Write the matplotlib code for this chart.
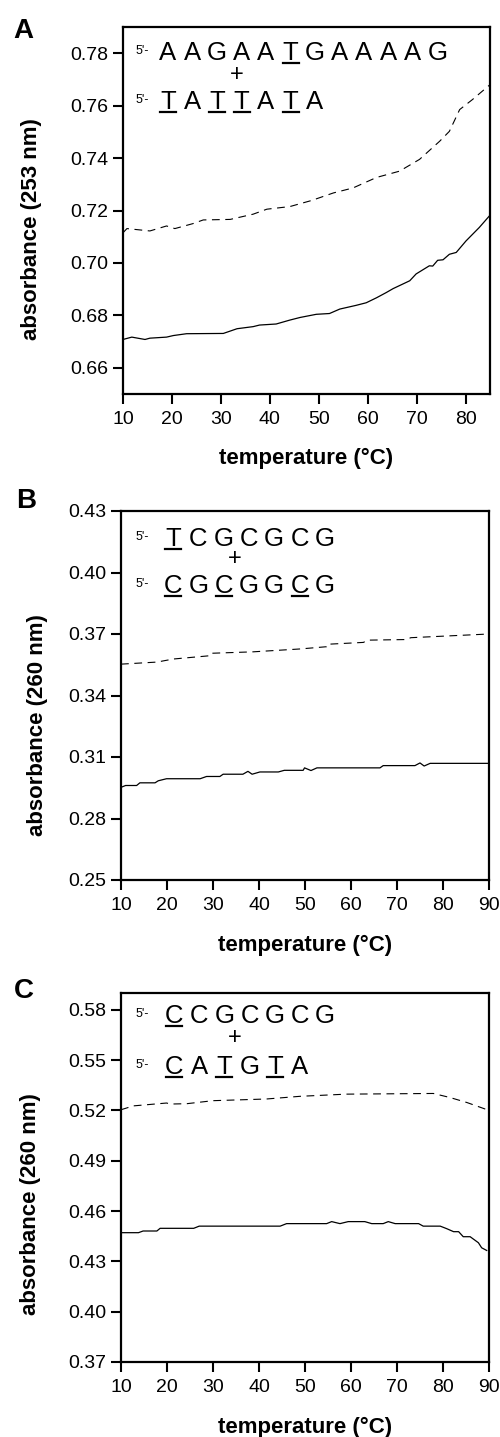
import numpy as np
import matplotlib
matplotlib.use("Agg")
import matplotlib.pyplot as plt
from matplotlib.lines import Line2D

plt.rcParams['font.family'] = ['Liberation Sans', 'DejaVu Sans']

# ---------------- data ----------------
# Panel A (absorbance at 253 nm)
tA_dash = [10, 10.8, 15.5, 18.9, 20.6, 24.3, 26.4, 31.9, 36.6, 39.4, 44.1, 48.5, 53.0,
           57.0, 61.8, 66.5, 70.6, 74.7, 76.7, 78.8, 81.4, 85]
vA_dash = [0.7115, 0.7131, 0.7122, 0.7141, 0.7131, 0.7150, 0.7164, 0.7166, 0.7186, 0.7205,
           0.7215, 0.7238, 0.7267, 0.7286, 0.7326, 0.7350, 0.7395, 0.7464, 0.7502, 0.7585,
           0.7623, 0.7680]
tA_solid = [10, 11.8, 14.5, 15.5, 18.9, 20.3, 23.0, 30.5, 33.3, 36.6, 37.9, 41.3, 44.1, 46.2,
            49.5, 52.2, 54.3, 57.6, 59.7, 61.8, 63.8, 65.2, 68.6, 69.9, 72.6, 73.3, 74.3,
            75.4, 76.7, 78.1, 80.1, 82.8, 85]
vA_solid = [0.6708, 0.6717, 0.6708, 0.6713, 0.6717, 0.6723, 0.6730, 0.6731, 0.6749, 0.6757,
            0.6763, 0.6767, 0.6782, 0.6792, 0.6804, 0.6807, 0.6824, 0.6838, 0.6848, 0.6867,
            0.6887, 0.6902, 0.6932, 0.6958, 0.6989, 0.6988, 0.7010, 0.7012, 0.7033, 0.7040,
            0.7084, 0.7135, 0.7182]

# Panel B (absorbance at 260 nm)
tB_dash = [10, 17.8, 21.4, 29.3, 29.6, 38.7, 48.9, 54.7, 54.9, 62.7, 63.6, 72.1, 73.0, 90]
vB_dash = [0.3553, 0.3563, 0.3578, 0.3594, 0.3606, 0.3613, 0.3627, 0.3638, 0.3650, 0.3659,
           0.3670, 0.3673, 0.3682, 0.3700]
tB_solid = [10, 11, 13.4, 14.1, 17.4, 18.1, 19.9, 27.2, 28.6, 31.5, 32.2, 36.5, 37.6, 38.5,
            40.2, 44.2, 45.5, 49.6, 49.9, 51.3, 52.6, 66.3, 67.0, 73.9, 75.0, 75.9, 77.2, 90]
vB_solid = [0.2952, 0.2961, 0.2961, 0.2974, 0.2974, 0.2984, 0.2994, 0.2994, 0.3005, 0.3005,
            0.3016, 0.3016, 0.3030, 0.3016, 0.3027, 0.3027, 0.3035, 0.3035, 0.3047, 0.3034,
            0.3047, 0.3047, 0.3058, 0.3058, 0.3071, 0.3056, 0.3069, 0.3069]

# Panel C (absorbance at 260 nm)
tC_dash = [10, 12.7, 19.9, 20.8, 24.3, 30, 41.6, 48.9, 59, 77.9, 81.5, 85.2, 89.5]
vC_dash = [0.5204, 0.5227, 0.5244, 0.5238, 0.5240, 0.5258, 0.5268, 0.5284, 0.5297, 0.5301,
           0.5277, 0.5247, 0.5205]
tC_solid = [10, 13.8, 14.8, 17.8, 18.5, 25.8, 27.0, 44.6, 46.0, 54.7, 55.8, 57.6, 59.4, 63.0,
            64.5, 67.0, 68.1, 69.6, 74.7, 75.7, 79.4, 80.8, 82.3, 83.4, 84.4, 85.9, 87.7,
            88.4, 89.5]
vC_solid = [0.4471, 0.4471, 0.4481, 0.4481, 0.4497, 0.4497, 0.4510, 0.4510, 0.4525, 0.4525,
            0.4537, 0.4525, 0.4537, 0.4537, 0.4525, 0.4525, 0.4537, 0.4525, 0.4525, 0.4510,
            0.4510, 0.4495, 0.4477, 0.4477, 0.4447, 0.4447, 0.4411, 0.4381, 0.4365]

# tick labels
xticksA = [10, 20, 30, 40, 50, 60, 70, 80]
xticksBC = [10, 20, 30, 40, 50, 60, 70, 80, 90]
yticksA = [0.66, 0.68, 0.70, 0.72, 0.74, 0.76, 0.78]
yticksB = [0.25, 0.28, 0.31, 0.34, 0.37, 0.40, 0.43]
yticksC = [0.37, 0.40, 0.43, 0.46, 0.49, 0.52, 0.55, 0.58]

ylabelA = "absorbance (253 nm)"
ylabelBC = "absorbance (260 nm)"
xlabel = "temperature (°C)"

# sequences (strand 1, strand 2) and underlined positions
seqA = ("AAGAATGAAAAG", "TATTATA")
ulA = ([5], [0, 2, 3, 5])
seqB = ("TCGCGCG", "CGCGGCG")
ulB = ([0], [0, 2, 5])
seqC = ("CCGCGCG", "CATGTA")
ulC = ([0], [0, 2, 4])

# ---------------- figure ----------------
W, H = 500, 1437
fig = plt.figure(figsize=(W / 100, H / 100), dpi=100)


def P(x, y):
    return x / W, 1 - y / H


def make_axes(box, xlim, ylim, xt, yt, t_d, v_d, t_s, v_s, ylab, ylx, yly):
    l, t, r, b = box
    ax = fig.add_axes([l / W, 1 - b / H, (r - l) / W, (b - t) / H])
    ax.plot(t_d, v_d, color='black', lw=0.8, linestyle=(0, (7, 5)))
    ax.plot(t_s, v_s, color='black', lw=0.9)
    ax.set_xlim(*xlim)
    ax.set_ylim(*ylim)
    ax.set_xticks(xt)
    ax.set_yticks(yt)
    ax.set_yticklabels([f"{v:.2f}" for v in yt])
    ax.tick_params(direction='out', length=7, width=1.5, labelsize=14, pad=3.5,
                   top=False, right=False)
    ax.tick_params(axis='x', pad=5)
    for s in ax.spines.values():
        s.set_linewidth(1.6)
    ax.set_xlabel(xlabel, fontsize=16, fontweight='bold')
    ax.xaxis.set_label_coords(0.5, -0.148)
    ax.set_ylabel(ylab, fontsize=16, fontweight='bold')
    ax.yaxis.set_label_coords(ylx, yly)
    return ax


make_axes((123, 27, 490, 394), (10, 85), (0.65, 0.79), xticksA, yticksA,
          tA_dash, vA_dash, tA_solid, vA_solid, ylabelA, -0.221, 0.45)
make_axes((121, 511, 489, 880), (10, 90), (0.25, 0.43), xticksBC, yticksB,
          tB_dash, vB_dash, tB_solid, vB_solid, ylabelBC, -0.198, 0.42)
make_axes((121, 993, 489, 1362), (10, 90), (0.37, 0.59), xticksBC, yticksC,
          tC_dash, vC_dash, tC_solid, vC_solid, ylabelBC, -0.217, 0.427)

# panel letters
for lab, (x, y) in zip("ABC", [(13, 38), (16, 508), (14, 998)]):
    fig.text(*P(x, y), lab, fontsize=20, fontweight='bold', ha='left', va='baseline')


def draw_seq(seqs, uls, x0, step, base1, base2, plus_xy):
    for seq, ul, base in zip(seqs, uls, (base1, base2)):
        fig.text(*P(136, base - 6), "5'-", fontsize=9, ha='left', va='baseline')
        for i, ch in enumerate(seq):
            cx = x0 + i * step
            fig.text(*P(cx, base), ch, fontsize=18.5, ha='center', va='baseline')
            if i in ul:
                x1, y1 = P(cx - 8, base + 3)
                x2, _ = P(cx + 8, base + 3)
                fig.add_artist(Line2D([x1, x2], [y1, y1], color='black', lw=1.6,
                                      transform=fig.transFigure))
    fig.text(*P(*plus_xy), "+", fontsize=17, ha='center', va='center')


draw_seq(seqA, ulA, 168, 24.5, 60, 109, (237, 75))
draw_seq(seqB, ulB, 173, 25.3, 546, 593, (235, 559))
draw_seq(seqC, ulC, 174, 25.2, 1023, 1074, (235, 1038))

fig.savefig("out.png", dpi=100)
